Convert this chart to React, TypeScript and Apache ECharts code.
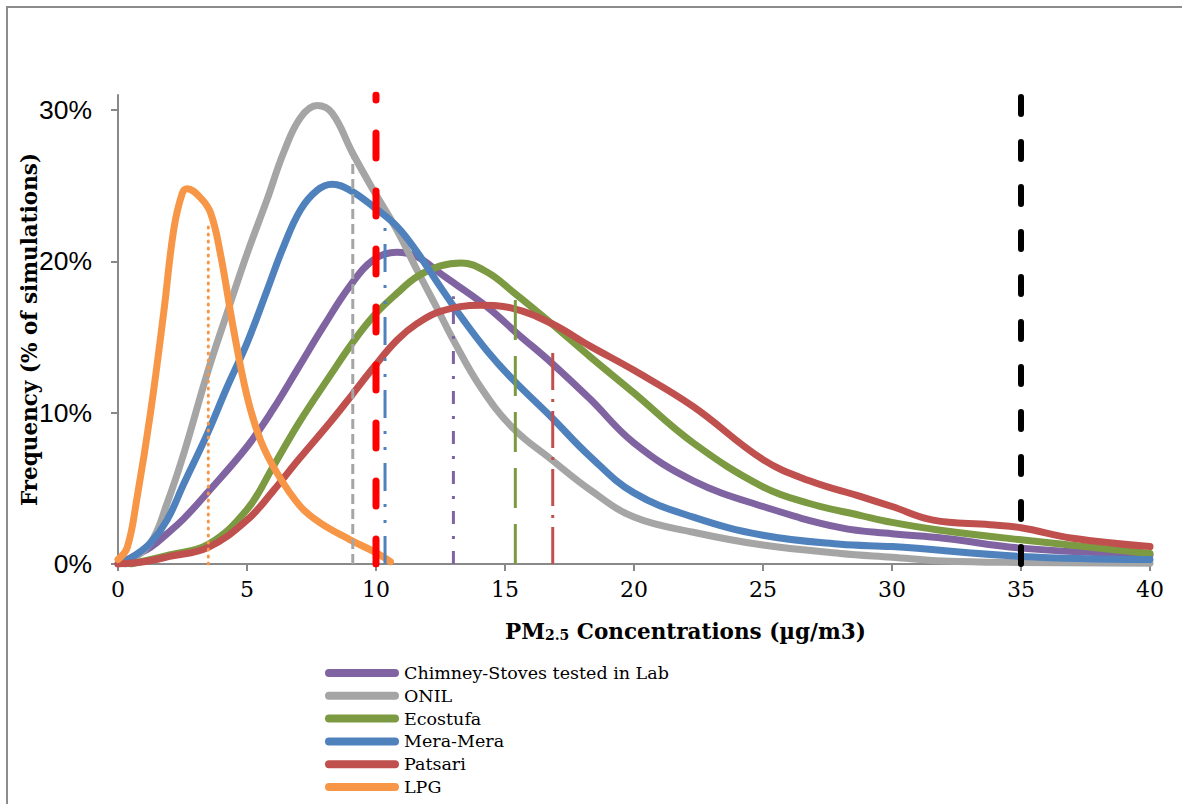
import React, { useEffect, useRef } from "react";
import * as echarts from "echarts";

// ---------- data (x = PM2.5 µg/m3, y = % of simulations) ----------
const yTicks = [0, 10, 20, 30];

const chimneyX = [0, 0.6, 1.26, 1.9, 2.55, 3.46, 5, 6, 7, 8, 9, 9.9, 10.8, 11.6, 12.5, 13, 14.3, 15.5, 16.8, 18.3, 20, 22.3, 25, 28, 30, 32, 35, 40];
const chimneyY = [0, 0.5, 1.1, 2.0, 3.0, 4.7, 7.75, 10.2, 13.0, 15.8, 18.4, 20.1, 20.6, 20.3, 19.2, 18.6, 17.0, 15.2, 13.3, 10.9, 8.0, 5.5, 3.8, 2.4, 2.0, 1.7, 1.05, 0.6];

const onilX = [0.3, 1.26, 1.9, 2.55, 3.46, 4.23, 5, 5.78, 6.42, 7.07, 7.72, 8.3, 9.08, 9.9, 10.8, 11.6, 12.4, 13.0, 14.05, 15.3, 16.8, 18.3, 20, 22.3, 25, 28, 30, 32, 35, 40];
const onilY = [0, 1.4, 4.0, 7.3, 12.6, 16.6, 20.5, 24.1, 27.2, 29.5, 30.3, 29.8, 27.2, 24.7, 22.1, 19.4, 16.8, 14.8, 11.7, 9.0, 6.9, 4.9, 3.1, 2.1, 1.25, 0.7, 0.45, 0.2, 0.1, 0.05];

const ecostufaX = [0.5, 2, 3.5, 5, 6, 7, 8.24, 9.08, 9.91, 10.82, 11.6, 12.5, 13.3, 14.3, 15.3, 16.8, 18.3, 20, 22.3, 25, 26.8, 28.8, 30, 31.8, 35, 40];
const ecostufaY = [0, 0.6, 1.3, 3.6, 6.4, 9.3, 12.5, 14.6, 16.4, 17.9, 19.0, 19.7, 19.9, 19.3, 18.0, 15.9, 13.7, 11.3, 8.0, 5.1, 4.0, 3.2, 2.75, 2.25, 1.6, 0.7];

const meraX = [0.2, 0.6, 1.26, 1.9, 2.55, 3.46, 4.23, 5, 5.78, 6.42, 7.07, 7.72, 8.3, 9.0, 9.91, 10.82, 11.6, 12.5, 13.4, 14.3, 15.3, 16.8, 18.3, 20, 22.3, 25, 28, 30, 35, 40];
const meraY = [0.1, 0.5, 1.4, 2.9, 5.3, 8.6, 11.7, 14.6, 18.1, 21.0, 23.4, 24.7, 25.1, 24.7, 23.6, 22.3, 20.6, 18.3, 16.1, 14.1, 12.2, 9.7, 7.1, 4.7, 3.1, 1.9, 1.3, 1.15, 0.5, 0.3];

const patsariX = [0, 1, 2, 3.5, 5, 6, 7, 8.24, 9.08, 9.91, 10.82, 11.6, 12.5, 14.05, 15.3, 16.8, 18.3, 20, 22.3, 25, 26.8, 28.8, 30, 31.6, 33.8, 35, 37, 40];
const patsariY = [0, 0.15, 0.5, 1.1, 2.9, 4.8, 6.9, 9.4, 11.2, 13.0, 14.8, 15.9, 16.7, 17.1, 16.9, 15.9, 14.4, 12.8, 10.4, 6.9, 5.5, 4.45, 3.8, 2.9, 2.6, 2.4, 1.7, 1.15];

const lpgX = [0, 0.36, 0.74, 1.26, 1.77, 2.16, 2.49, 2.68, 3.2, 3.59, 3.97, 4.48, 5.0, 5.52, 6.17, 7.07, 7.85, 9.0, 10.05, 10.56];
const lpgY = [0.3, 1.1, 4.4, 10.0, 16.6, 22.1, 24.5, 24.8, 24.2, 23.2, 20.5, 15.5, 11.1, 8.2, 6.0, 3.8, 2.7, 1.6, 0.7, 0.15];

// vertical reference lines: [x, top y]
const refLpg = [3.5, 22.5];
const refOnil = [9.1, 27.3];
const refWho = [10, 31];
const refMera = [10.35, 22.3];
const refChimney = [13, 17.7];
const refEcostufa = [15.4, 17.7];
const refPatsari = [16.85, 14.4];
const refEpa = [35, 31];

const seriesNames = ["Chimney-Stoves tested in Lab", "ONIL", "Ecostufa", "Mera-Mera", "Patsari", "LPG"];
const seriesColors = ["#8064A2", "#A5A5A5", "#7B9A41", "#4F81BD", "#C0504D", "#F79646"];
const seriesXs = [chimneyX, onilX, ecostufaX, meraX, patsariX, lpgX];
const seriesYs = [chimneyY, onilY, ecostufaY, meraY, patsariY, lpgY];

const zip = (xs: number[], ys: number[]) => xs.map((x, i) => [x, ys[i]]);

export default function App() {
  const ref = useRef<HTMLDivElement>(null);

  useEffect(() => {
    if (!ref.current) return;
    const chart = echarts.init(ref.current, null, { renderer: "svg" });

    const curveSeries = seriesNames.map((name, i) => ({
      name,
      type: "line",
      data: zip(seriesXs[i], seriesYs[i]),
      smooth: 0.4,
      showSymbol: false,
      color: seriesColors[i],
      lineStyle: { color: seriesColors[i], width: 7, cap: "round", join: "round" },
      z: 2,
    }));

    const refLine = (r: number[], color: string, width: number, type: any, cap = "butt") => ({
      type: "line",
      data: [[r[0], 0], [r[0], r[1]]],
      showSymbol: false,
      silent: true,
      lineStyle: { color, width, type, cap },
      z: 3,
    });

    const refSeries = [
      refLine(refLpg, "#F79646", 3, [1, 6], "round"),
      refLine(refOnil, "#A5A5A5", 3, [10, 5]),
      refLine(refMera, "#4F81BD", 3, [28, 13, 3, 13, 3, 13]),
      refLine(refChimney, "#8064A2", 3, [13, 12, 3, 12]),
      refLine(refEcostufa, "#7B9A41", 3, [40, 16]),
      refLine(refPatsari, "#C0504D", 3, [37, 9, 3, 9]),
      refLine(refWho, "#FF0000", 7, [25, 33], "round"),
      refLine(refEpa, "#000000", 6, [17, 28], "round"),
    ];

    const axisColor = "#898989";

    chart.setOption({
      animation: false,
      backgroundColor: "#ffffff",
      graphic: [
        {
          type: "rect",
          silent: true,
          shape: { x: 7, y: 7, width: 1300, height: 900 },
          style: { fill: "none", stroke: "#8c8c8c", lineWidth: 2 },
        },
      ],
      title: {
        text: "{b|PM}{s|2.5}{b| Concentrations (µg/m3)}",
        left: 505,
        top: 614,
        padding: 0,
        textStyle: {
          rich: {
            b: { fontFamily: "DejaVu Serif", fontWeight: "bold", fontSize: 21.5, color: "#000", lineHeight: 28, verticalAlign: "bottom" },
            s: { fontFamily: "DejaVu Serif", fontWeight: "bold", fontSize: 14, color: "#000", lineHeight: 8, verticalAlign: "bottom" },
          },
        },
      },
      legend: {
        data: seriesNames,
        orient: "vertical",
        left: 325,
        top: 664,
        padding: 0,
        itemWidth: 74,
        itemHeight: 8,
        itemGap: 4.8,
        icon: "path://M4,0 H70 A4,4 0 0 1 70,8 H4 A4,4 0 0 1 4,0 Z",
        selectedMode: false,
        textStyle: { fontFamily: "DejaVu Serif", fontSize: 17.5, color: "#000", lineHeight: 17 },
      },
      grid: { left: 118, right: 32, top: 95, bottom: 240 },
      xAxis: {
        type: "value",
        min: 0,
        max: 40,
        interval: 5,
        axisLine: { show: true, lineStyle: { color: axisColor, width: 2 } },
        axisTick: { show: true, length: 7, lineStyle: { color: axisColor, width: 2 } },
        splitLine: { show: false },
        axisLabel: { margin: 14, fontFamily: "DejaVu Serif", fontSize: 22, color: "#000" },
      },
      yAxis: {
        type: "value",
        min: 0,
        max: 31,
        axisLine: { show: true, lineStyle: { color: axisColor, width: 2 } },
        axisTick: { show: true, length: 7, customValues: yTicks, lineStyle: { color: axisColor, width: 2 } },
        splitLine: { show: false },
        axisLabel: {
          customValues: yTicks,
          formatter: "{value}%",
          fontFamily: "Liberation Sans",
          fontSize: 26.5,
          color: "#000",
          margin: 26,
        },
        name: "Frequency (% of simulations)",
        nameLocation: "middle",
        nameGap: 78,
        nameMoveOverlap: false,
        nameTextStyle: { fontFamily: "DejaVu Serif", fontWeight: "bold", fontSize: 21.5, color: "#000" },
      },
      series: [...curveSeries, ...refSeries],
    });

    return () => chart.dispose();
  }, []);

  return (
    <div
      ref={ref}
      style={{ position: "fixed", left: 0, top: 0, width: 1182, height: 804, background: "#fff" }}
    />
  );
}
